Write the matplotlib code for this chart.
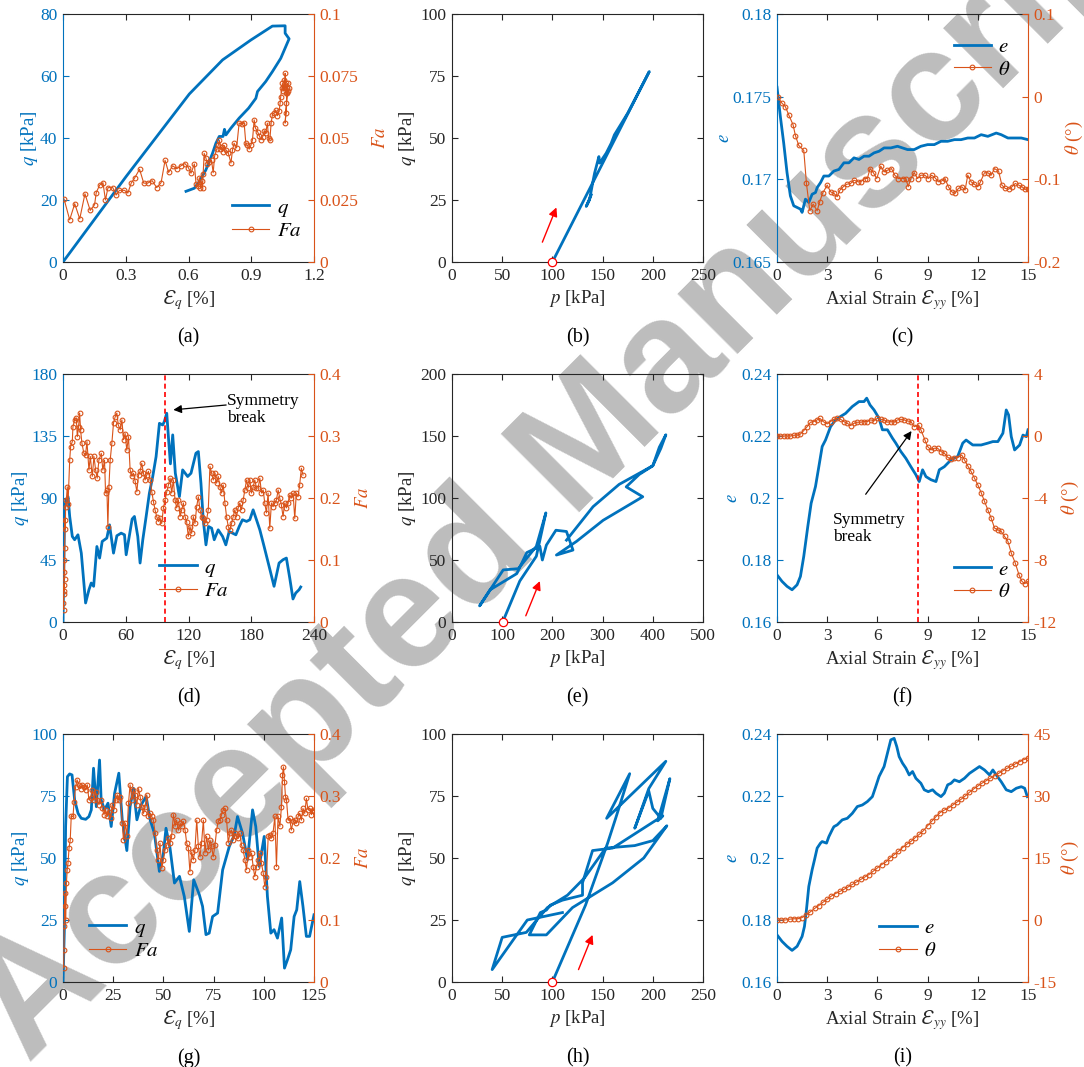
import numpy as np
import matplotlib
matplotlib.use("Agg")
import matplotlib.pyplot as plt
from matplotlib.ticker import FuncFormatter

plt.rcParams['font.family'] = 'Liberation Serif'
plt.rcParams['mathtext.fontset'] = 'stix'
plt.rcParams['axes.unicode_minus'] = False

BLUE = '#0072BD'
ORANGE = '#D95319'
DARK = '#262626'

# ---------------- (a) dense sample: q and Fa vs shear strain
a_q = [(0, 0), (0.302, 27.6), (0.604, 54.2), (0.763, 65.2), (0.898, 71.6), (1.001, 76.1),
       (1.062, 76.2), (1.062, 73.8), (1.081, 72.0), (1.041, 65.7), (1.001, 61.4), (0.969, 58.2),
       (0.930, 55.0), (0.922, 52.8), (0.887, 49.6), (0.842, 46.4), (0.803, 43.2), (0.779, 41.0),
       (0.772, 42.8), (0.765, 40.5), (0.747, 40.5), (0.731, 38.3), (0.715, 35.1), (0.683, 29.7),
       (0.652, 26.0), (0.628, 23.8), (0.588, 22.8)]
a_fa = [(0.005, 0.0254), (0.032, 0.017), (0.056, 0.0235), (0.080, 0.0174), (0.105, 0.0275),
        (0.130, 0.0208), (0.151, 0.0231), (0.159, 0.028), (0.175, 0.031), (0.191, 0.032),
        (0.203, 0.025), (0.215, 0.030), (0.238, 0.030), (0.254, 0.027), (0.270, 0.0289),
        (0.294, 0.0289), (0.310, 0.0278), (0.326, 0.0318), (0.342, 0.0338), (0.366, 0.0374),
        (0.386, 0.0318), (0.405, 0.0318), (0.426, 0.0328), (0.448, 0.030), (0.469, 0.032),
        (0.488, 0.041), (0.505, 0.0361), (0.524, 0.0388), (0.544, 0.0376), (0.564, 0.0388),
        (0.583, 0.0397), (0.599, 0.0381), (0.612, 0.0358), (0.628, 0.0395), (0.636, 0.0315),
        (0.645, 0.0305), (0.652, 0.034), (0.657, 0.0298), (0.663, 0.0325), (0.667, 0.0298),
        (0.670, 0.0355), (0.675, 0.0438), (0.683, 0.0420), (0.690, 0.0395), (0.700, 0.0405),
        (0.710, 0.0410), (0.718, 0.0360), (0.725, 0.0428), (0.735, 0.0455), (0.742, 0.0470),
        (0.748, 0.0490), (0.752, 0.0455), (0.758, 0.0462), (0.763, 0.0445), (0.770, 0.0470),
        (0.779, 0.0452), (0.790, 0.0440), (0.803, 0.0399), (0.810, 0.0450), (0.818, 0.0479),
        (0.830, 0.0460), (0.842, 0.0560), (0.855, 0.0558), (0.866, 0.0560), (0.874, 0.0479),
        (0.882, 0.0470), (0.890, 0.0455), (0.898, 0.0470), (0.906, 0.0493), (0.914, 0.0573),
        (0.920, 0.0540), (0.930, 0.0526), (0.938, 0.0510), (0.946, 0.0493), (0.955, 0.0505),
        (0.962, 0.0530), (0.969, 0.0520), (0.977, 0.0560), (0.983, 0.0500), (0.989, 0.0493),
        (0.995, 0.0560), (1.001, 0.0593), (1.008, 0.0600), (1.017, 0.0613), (1.025, 0.0590),
        (1.033, 0.0607), (1.038, 0.0640), (1.041, 0.0667), (1.046, 0.0700), (1.049, 0.0720),
        (1.053, 0.0690), (1.057, 0.0734), (1.060, 0.0700), (1.062, 0.0761), (1.065, 0.0720),
        (1.068, 0.0680), (1.071, 0.0700), (1.074, 0.0720), (1.068, 0.0640), (1.062, 0.0560),
        (1.066, 0.0600), (1.072, 0.0680), (1.078, 0.0690), (1.081, 0.0700)]

# ---------------- (b) stress path
b_path = [(100, 0), (196.5, 76.8), (175, 60), (161.8, 51.3), (158.6, 47.9), (153.6, 43.9),
          (147, 39.9), (146.3, 42.5), (142, 35.8), (140.4, 32.5), (137, 25.1), (133.7, 22.4),
          (138.7, 27.1)]

# ---------------- (c) void ratio and rotation vs axial strain
c_e = [(0, 0.17557), (0.2, 0.1738), (0.4, 0.1722), (0.6, 0.1704), (0.8, 0.1690), (1.0, 0.1684),
       (1.2, 0.1683), (1.4, 0.1682), (1.5, 0.1680), (1.7, 0.1688), (1.9, 0.1686), (2.1, 0.1691),
       (2.3, 0.1692), (2.4, 0.1695), (2.6, 0.1698), (2.8, 0.1702), (3.1, 0.1702), (3.4, 0.1705),
       (3.7, 0.1706), (4.0, 0.1710), (4.3, 0.1710), (4.6, 0.1713), (4.9, 0.1712), (5.2, 0.1714),
       (5.5, 0.1714), (5.8, 0.1716), (6.1, 0.1717), (6.4, 0.1719), (6.8, 0.1719), (7.2, 0.1720),
       (7.5, 0.1719), (7.8, 0.1718), (8.2, 0.1718), (8.6, 0.1720), (9.0, 0.1721), (9.4, 0.1721),
       (9.8, 0.1723), (10.2, 0.1723), (10.6, 0.1724), (11.0, 0.1724), (11.4, 0.1725),
       (11.8, 0.1725), (12.2, 0.1727), (12.6, 0.1726), (13.1, 0.1728), (13.4, 0.1727),
       (13.8, 0.1725), (14.2, 0.1725), (14.6, 0.1725), (15.0, 0.1724)]
c_theta = [(0.04, 0.0), (0.3, -0.008), (0.5, -0.012), (0.7, -0.022), (0.96, -0.034), (1.1, -0.047),
           (1.3, -0.059), (1.6, -0.065), (1.76, -0.105), (1.96, -0.138), (2.16, -0.13), (2.4, -0.138),
           (2.54, -0.128), (2.72, -0.117), (3.0, -0.107), (3.2, -0.115), (3.4, -0.117), (3.6, -0.121),
           (3.76, -0.113), (3.96, -0.109), (4.16, -0.106), (4.4, -0.105), (4.6, -0.101), (4.84, -0.103),
           (5.0, -0.103), (5.24, -0.099), (5.4, -0.099), (5.56, -0.087), (5.76, -0.092), (5.96, -0.099),
           (6.2, -0.084), (6.4, -0.091), (6.6, -0.089), (6.84, -0.087), (7.04, -0.095), (7.24, -0.099),
           (7.5, -0.099), (7.7, -0.099), (7.84, -0.109), (8.0, -0.099), (8.2, -0.092), (8.4, -0.099),
           (8.6, -0.095), (8.84, -0.095), (9.04, -0.099), (9.24, -0.095), (9.44, -0.098), (9.64, -0.103),
           (9.84, -0.102), (10.04, -0.099), (10.24, -0.109), (10.44, -0.115), (10.64, -0.117),
           (10.84, -0.111), (11.04, -0.109), (11.24, -0.113), (11.4, -0.095), (11.6, -0.103),
           (11.8, -0.106), (12.0, -0.109), (12.16, -0.103), (12.4, -0.092), (12.6, -0.092),
           (12.8, -0.095), (13.0, -0.087), (13.24, -0.090), (13.44, -0.107), (13.64, -0.111),
           (13.84, -0.112), (14.04, -0.109), (14.24, -0.105), (14.44, -0.107), (14.64, -0.109),
           (14.8, -0.112), (15.0, -0.112)]

# ---------------- (d) loose sample: q and Fa vs shear strain
d_q = [(0, 0), (1.6, 83.8), (3.2, 88.7), (4.8, 91), (6.4, 76.6), (8.9, 62.1), (11.1, 59.7),
       (14.3, 63.3), (17.5, 50), (21.6, 13.8), (24.8, 23.4), (27, 28.3), (29.3, 25.9), (32.4, 54.8),
       (35, 46.4), (37.5, 58.5), (41.9, 60.9), (44.5, 70.5), (48.3, 50), (51.5, 62.6), (55.6, 64.5),
       (58.8, 63.3), (60.4, 48.8), (63.6, 63.3), (66.1, 74.7), (68.3, 76.6), (71.5, 62.1),
       (73.7, 42.8), (76.3, 59.7), (79.5, 76.6), (82.6, 93.5), (85.8, 105.6), (89, 120),
       (92.2, 144.2), (95.3, 143), (96.9, 145.5), (99.2, 151.5), (101.1, 131), (102.7, 114.8),
       (104.9, 135.8), (107.4, 108), (111.3, 91), (114.4, 110.4), (119.2, 105.6), (122.4, 108),
       (127.1, 122.5), (129.4, 123.7), (131.9, 100.7), (134.1, 74.2), (136.7, 56), (139.2, 69.3),
       (142.1, 68.1), (144.6, 59.7), (148.4, 66.9), (152.6, 62.1), (155.7, 56), (158.9, 65.7),
       (162.1, 64.5), (165.3, 63.3), (168.5, 69.3), (171.6, 74.2), (175.5, 73), (178.6, 74.2),
       (181.8, 81.4), (185, 74.2), (188.2, 66.9), (192.3, 54.8), (197.1, 40.3), (201.8, 25.9),
       (206.6, 42.8), (210.4, 45.2), (213.6, 46.4), (216.8, 31.9), (219.9, 16.7), (222.5, 21),
       (225.7, 23.4), (227.3, 25.4)]
d_fa = [(0.3, 0.03), (0.5, 0.02), (0.6, 0.045), (0.8, 0.06), (1.0, 0.05), (1.1, 0.08), (1.3, 0.1),
        (1.5, 0.07), (1.6, 0.12), (1.9, 0.165), (2.2, 0.15), (2.5, 0.186), (3.2, 0.197), (4.1, 0.218),
        (4.8, 0.19), (6.4, 0.261), (7.3, 0.283), (8.9, 0.291), (9.5, 0.315), (11.1, 0.326),
        (12.7, 0.329), (13.7, 0.299), (14.9, 0.315), (15.9, 0.337), (16.8, 0.31), (18.1, 0.288),
        (20, 0.272), (21.6, 0.27), (22.9, 0.291), (24.8, 0.245), (26.1, 0.267), (28, 0.235),
        (29.6, 0.267), (31.2, 0.245), (32.7, 0.232), (34.3, 0.261), (36.6, 0.272), (38.1, 0.245),
        (39.7, 0.261), (40.7, 0.208), (42, 0.213), (42.9, 0.154), (43.9, 0.218), (45.1, 0.261),
        (46.7, 0.288), (48.3, 0.321), (49.9, 0.331), (51.5, 0.337), (52.8, 0.318), (54.7, 0.31),
        (56.3, 0.326), (57.9, 0.294), (59.4, 0.304), (61, 0.277), (62.6, 0.299), (64.2, 0.245),
        (65.8, 0.235), (67.4, 0.24), (69, 0.227), (70.6, 0.21), (72.2, 0.237), (73.7, 0.243),
        (75.3, 0.256), (76.9, 0.24), (78.5, 0.229), (80.1, 0.237), (81.7, 0.243), (83.3, 0.229),
        (84.9, 0.21), (86.5, 0.194), (88, 0.181), (89.6, 0.17), (91.2, 0.162), (92.8, 0.167),
        (94.4, 0.159), (96, 0.184), (97.6, 0.197), (99.2, 0.21), (100.8, 0.221), (102.4, 0.232),
        (103.9, 0.208), (105.5, 0.229), (107.1, 0.197), (108.7, 0.184), (110.3, 0.197), (111.9, 0.17),
        (113.5, 0.181), (115.1, 0.192), (116.7, 0.17), (118.2, 0.162), (119.8, 0.138), (121.4, 0.154),
        (123, 0.143), (124.6, 0.17), (126.2, 0.159), (127.8, 0.186), (129.4, 0.202), (131, 0.181),
        (132.5, 0.17), (134.1, 0.167), (135.7, 0.159), (137.3, 0.165), (138.9, 0.181), (140.5, 0.251),
        (142.1, 0.24), (143.7, 0.229), (145.3, 0.24), (146.9, 0.224), (148.4, 0.235), (150, 0.218),
        (151.6, 0.208), (153.2, 0.221), (154.8, 0.192), (156.4, 0.17), (158, 0.154), (159.6, 0.149),
        (161.2, 0.159), (162.7, 0.17), (164.3, 0.181), (165.9, 0.17), (167.5, 0.184), (169.1, 0.192),
        (170.7, 0.181), (172.3, 0.197), (173.9, 0.213), (175.5, 0.229), (177, 0.216), (178.6, 0.229),
        (180.2, 0.208), (181.8, 0.218), (183.4, 0.229), (185, 0.216), (186.6, 0.216), (188.2, 0.232),
        (189.8, 0.208), (191.4, 0.213), (192.9, 0.192), (194.5, 0.176), (196.1, 0.208), (197.7, 0.151),
        (199.3, 0.192), (200.9, 0.186), (202.5, 0.192), (204.1, 0.197), (205.7, 0.213), (207.2, 0.2),
        (208.8, 0.189), (210.4, 0.17), (212, 0.192), (213.6, 0.184), (215.2, 0.192), (216.8, 0.205),
        (218.4, 0.2), (220, 0.208), (221.6, 0.167), (223.1, 0.208), (224.7, 0.202), (226.3, 0.221),
        (227.9, 0.248), (229.5, 0.237)]
d_break = 97.9

# ---------------- (e) stress path
e_path = [(101, 0), (135, 33), (168, 53), (187, 88), (168, 61), (132, 43), (102, 42), (55, 13),
          (76, 26), (129, 39), (149, 56), (175, 61), (180, 50), (188, 62), (207, 74), (228, 73),
          (241, 58), (208, 54), (248, 65), (301, 82), (380, 101), (347, 109), (373, 119), (400, 126),
          (416, 140), (426, 151), (413, 141), (400, 126), (333, 111), (281, 93), (228, 66)]

# ---------------- (f) void ratio and rotation vs axial strain
f_e = [(0, 0.1752), (0.3, 0.1731), (0.6, 0.1715), (0.9, 0.1704), (1.2, 0.172), (1.4, 0.1747),
       (1.6, 0.1812), (1.84, 0.1908), (2.04, 0.1983), (2.3, 0.2037), (2.5, 0.2101), (2.7, 0.2166),
       (2.9, 0.2187), (3.2, 0.223), (3.5, 0.2252), (3.8, 0.2263), (4.1, 0.2273), (4.5, 0.2295),
       (4.9, 0.2311), (5.2, 0.2311), (5.36, 0.2322), (5.56, 0.23), (5.8, 0.2284), (6.1, 0.2257),
       (6.3, 0.222), (6.6, 0.222), (6.9, 0.2193), (7.1, 0.2177), (7.4, 0.215), (7.7, 0.2128),
       (8.0, 0.2101), (8.3, 0.2075), (8.5, 0.2053), (8.7, 0.2091), (8.9, 0.2069), (9.2, 0.2059),
       (9.5, 0.2053), (9.7, 0.2091), (10.0, 0.2101), (10.4, 0.2123), (10.8, 0.2134), (11.1, 0.2177),
       (11.3, 0.2187), (11.7, 0.2171), (12.2, 0.2171), (12.6, 0.2177), (12.9, 0.2182),
       (13.2, 0.2182), (13.5, 0.2209), (13.7, 0.2284), (13.84, 0.2268), (14.0, 0.2198),
       (14.2, 0.2155), (14.5, 0.2171), (14.7, 0.2203), (14.9, 0.2198), (15.0, 0.222)]
f_theta = [(0, 0.0), (0.2, 0.0), (0.4, 0.0), (0.6, 0.0), (0.8, 0.0), (1.0, 0.05), (1.2, 0.05),
           (1.4, 0.13), (1.6, 0.35), (1.8, 0.6), (2.0, 0.89), (2.2, 0.93), (2.4, 1.04), (2.56, 1.14),
           (2.76, 0.93), (3.0, 0.78), (3.2, 0.93), (3.4, 1.08), (3.6, 1.14), (3.8, 1.08), (4.0, 0.93),
           (4.2, 0.82), (4.4, 0.67), (4.6, 0.82), (4.8, 0.89), (5.0, 0.89), (5.2, 0.93), (5.4, 0.93),
           (5.6, 1.04), (5.8, 1.0), (6.0, 1.14), (6.2, 1.08), (6.4, 1.04), (6.6, 0.89), (6.8, 0.93),
           (7.0, 0.89), (7.2, 1.04), (7.4, 1.08), (7.6, 1.04), (7.8, 0.97), (8.0, 0.93), (8.2, 0.6),
           (8.46, 0.71), (8.6, 0.39), (8.84, -0.25), (9.0, -0.68), (9.2, -0.9), (9.4, -0.79),
           (9.6, -0.79), (9.8, -1.0), (10.0, -1.11), (10.2, -1.37), (10.4, -1.5), (10.6, -1.43),
           (10.8, -1.39), (11.04, -1.22), (11.2, -1.54), (11.4, -1.93), (11.6, -2.29), (11.8, -2.72),
           (12.0, -3.15), (12.2, -3.65), (12.4, -4.22), (12.6, -4.76), (12.8, -5.3), (13.0, -5.94),
           (13.2, -6.05), (13.4, -6.16), (13.6, -6.48), (13.8, -6.8), (14.0, -7.55), (14.24, -8.2),
           (14.46, -8.95), (14.64, -9.38), (14.8, -9.53), (15.0, -9.38)]
f_break = 8.44

# ---------------- (g) dense sample, second run
g_q = [(0, 0), (0.8, 25), (1.3, 62.7), (2.2, 82.8), (3.3, 83.9), (4.5, 83.5), (5.8, 73.4),
       (7.5, 68), (9.1, 66), (11.3, 65.6), (12.9, 66.7), (14.1, 69.4), (15.2, 86.2), (16.6, 70.7),
       (18.2, 89.5), (19, 73.4), (20.7, 69.4), (22.4, 72.1), (24, 62.7), (25.7, 76.1), (27.8, 84.2),
       (29.5, 65.4), (31.8, 53), (33.4, 70.7), (35.1, 78.1), (36.8, 65.4), (38.9, 71.4),
       (41.4, 74.8), (43.4, 65.4), (45.5, 60), (48, 44.6), (50, 51.9), (51.3, 62), (53.3, 54),
       (55.5, 39.9), (58, 42.6), (60.4, 34.5), (62.9, 20.4), (65.1, 41.2), (67.9, 35.2),
       (69.5, 30.5), (71.2, 19.1), (72.8, 19.7), (74.5, 26.4), (77, 27.8), (79.5, 45.2),
       (82.8, 54.6), (85.3, 59.3), (86.9, 66.7), (89.4, 60), (91.9, 49.3), (94.4, 69.4), (96, 62.7),
       (97.7, 46.6), (100.2, 58.7), (101.8, 34.5), (103.5, 19.7), (105.1, 21.1), (106.8, 17.7),
       (108.9, 25.8), (110.3, 5.6), (111.8, 9), (113.4, 13), (115.1, 26.4), (116.4, 29.1),
       (117.9, 40.5), (119.5, 30.5), (121.2, 18.4), (122.8, 18.4), (125, 27.1)]
g_fa = [(0.3, 0.0226), (0.5, 0.052), (0.6, 0.09), (0.8, 0.122), (1.1, 0.143), (1.3, 0.1),
        (1.7, 0.16), (2.1, 0.181), (2.5, 0.192), (3.0, 0.216), (3.6, 0.229), (4.1, 0.267), (5, 0.267),
        (5.5, 0.291), (6.3, 0.315), (7, 0.326), (8, 0.318), (8.8, 0.312), (9.6, 0.318), (10.4, 0.315),
        (11.3, 0.31), (12.1, 0.318), (12.9, 0.294), (13.7, 0.296), (14.6, 0.31), (15.4, 0.294),
        (16.2, 0.307), (17.1, 0.294), (17.9, 0.286), (18.7, 0.294), (19.5, 0.28), (20.4, 0.27),
        (21.2, 0.278), (22, 0.267), (22.8, 0.275), (23.7, 0.264), (24.5, 0.286), (25.3, 0.278),
        (26.2, 0.294), (27, 0.302), (27.8, 0.294), (28.6, 0.299), (29.5, 0.256), (30.1, 0.229),
        (31, 0.256), (31.8, 0.235), (32.6, 0.288), (33.4, 0.318), (34.3, 0.294), (35.1, 0.31),
        (35.9, 0.302), (36.8, 0.286), (37.6, 0.312), (38.4, 0.299), (39.2, 0.283), (40.1, 0.272),
        (40.9, 0.283), (41.7, 0.302), (42.5, 0.267), (43.4, 0.272), (44.2, 0.267), (45, 0.261),
        (45.9, 0.24), (46.7, 0.213), (47.5, 0.197), (48.3, 0.224), (49.2, 0.184), (50, 0.197),
        (50.8, 0.213), (51.7, 0.221), (52.5, 0.232), (53.3, 0.224), (54.1, 0.235), (55, 0.27),
        (55.8, 0.251), (56.6, 0.261), (57.5, 0.245), (58.3, 0.256), (59.1, 0.251), (59.9, 0.259),
        (60.8, 0.245), (61.6, 0.224), (62.4, 0.216), (63.2, 0.178), (64.1, 0.21), (64.9, 0.197),
        (65.7, 0.213), (66.6, 0.261), (67.4, 0.219), (68.2, 0.202), (69, 0.224), (69.9, 0.261),
        (70.7, 0.208), (71.5, 0.235), (72.4, 0.213), (73.2, 0.229), (74, 0.219), (74.8, 0.202),
        (75.7, 0.221), (76.5, 0.245), (77.3, 0.259), (78.1, 0.261), (79, 0.27), (79.8, 0.278),
        (80.6, 0.28), (81.5, 0.261), (82.3, 0.224), (83.1, 0.24), (83.9, 0.245), (84.8, 0.229),
        (85.6, 0.24), (86.4, 0.235), (87.3, 0.232), (88.1, 0.24), (88.9, 0.221), (89.7, 0.213),
        (90.6, 0.197), (91.4, 0.181), (92.2, 0.213), (93, 0.202), (93.9, 0.208), (94.7, 0.186),
        (95.5, 0.17), (96.4, 0.186), (97.2, 0.197), (98, 0.208), (98.8, 0.192), (99.7, 0.176),
        (100.5, 0.154), (101.3, 0.17), (102.2, 0.235), (103, 0.237), (103.8, 0.232), (104.6, 0.24),
        (105.5, 0.267), (106.3, 0.186), (107.1, 0.267), (108, 0.251), (108.8, 0.283), (109.3, 0.334),
        (109.8, 0.347), (110.3, 0.323), (110.8, 0.299), (111.3, 0.294), (112.1, 0.261),
        (112.9, 0.264), (113.7, 0.245), (114.6, 0.259), (115.4, 0.261), (116.2, 0.256),
        (117.1, 0.267), (117.9, 0.272), (118.7, 0.261), (119.5, 0.28), (120.4, 0.272), (121.2, 0.296),
        (122, 0.278), (122.8, 0.28), (123.7, 0.27), (124.5, 0.278), (125, 0.276)]

# ---------------- (h) stress path
h_path = [(100, 0), (133, 31), (155, 56), (163, 66), (177, 84), (154, 66), (213, 89), (196, 78),
          (183, 63), (182, 62), (196, 77), (200, 70), (208, 66), (217, 82), (205, 65), (210, 67),
          (160, 54), (140, 53), (130, 40), (130, 35), (110, 33), (98, 31), (94, 29), (88, 28),
          (77, 19), (94, 19), (120, 30), (160, 40), (191, 50), (214, 63), (200, 57), (182, 55),
          (153, 54), (132, 42), (115, 35), (95, 30), (74, 20), (50, 18), (40, 5), (75, 25), (110, 28)]

# ---------------- (i) void ratio and rotation vs axial strain
i_e = [(0, 0.1752), (0.3, 0.1731), (0.6, 0.1715), (0.9, 0.1702), (1.2, 0.1715), (1.5, 0.1747),
       (1.64, 0.1779), (1.76, 0.1833), (1.9, 0.1908), (2.1, 0.1962), (2.24, 0.1994), (2.4, 0.2032),
       (2.6, 0.2048), (2.7, 0.2053), (2.96, 0.2048), (3.1, 0.2069), (3.3, 0.2091), (3.4, 0.2101),
       (3.6, 0.2107), (3.9, 0.2123), (4.2, 0.2128), (4.5, 0.2144), (4.8, 0.2166), (5.1, 0.2171),
       (5.4, 0.2182), (5.7, 0.2198), (5.9, 0.223), (6.1, 0.2263), (6.4, 0.2295), (6.6, 0.2338),
       (6.8, 0.2381), (7.0, 0.2386), (7.16, 0.2359), (7.3, 0.2327), (7.5, 0.2306), (7.7, 0.229),
       (7.9, 0.2268), (8.1, 0.2279), (8.3, 0.2257), (8.6, 0.2241), (8.8, 0.222), (9.04, 0.2214),
       (9.3, 0.222), (9.5, 0.2209), (9.8, 0.2198), (10.0, 0.2209), (10.2, 0.2236), (10.4, 0.2241),
       (10.6, 0.2252), (10.9, 0.2246), (11.2, 0.2257), (11.5, 0.2273), (11.8, 0.2284),
       (12.1, 0.2295), (12.4, 0.2284), (12.7, 0.2268), (12.9, 0.2284), (13.1, 0.2268),
       (13.4, 0.2246), (13.7, 0.222), (14.0, 0.2214), (14.3, 0.2225), (14.6, 0.223), (14.8, 0.2225),
       (14.96, 0.2198)]
i_theta = [(0, 0), (0.25, 0), (0.5, 0), (0.75, 0.2), (1.0, 0.3), (1.25, 0.3), (1.5, 0.6), (1.75, 1.2),
           (2.0, 2.0), (2.25, 2.8), (2.5, 3.5), (2.75, 4.3), (3.0, 5.0), (3.25, 5.8), (3.5, 6.4),
           (3.75, 6.9), (4.0, 7.4), (4.25, 8.0), (4.5, 8.6), (4.75, 9.2), (5.0, 9.8), (5.25, 10.4),
           (5.5, 11.0), (5.75, 11.8), (6.0, 12.6), (6.25, 13.4), (6.5, 14.0), (6.75, 15.0), (7.0, 15.8),
           (7.25, 16.6), (7.5, 17.5), (7.75, 18.3), (8.0, 19.0), (8.25, 19.9), (8.5, 20.7),
           (8.75, 21.6), (9.0, 22.8), (9.25, 23.9), (9.5, 25.0), (9.75, 26.0), (10.0, 26.6),
           (10.25, 27.1), (10.5, 27.8), (10.75, 28.5), (11.0, 29.2), (11.25, 30.0), (11.5, 30.9),
           (11.75, 31.7), (12.0, 32.4), (12.25, 33.1), (12.5, 33.7), (12.75, 34.3), (13.0, 34.9),
           (13.25, 35.5), (13.5, 36.1), (13.75, 36.7), (14.0, 37.2), (14.25, 37.8), (14.5, 38.3),
           (14.75, 38.8), (15.0, 39.2)]

eq_label = r'$\mathit{Ɛ}_q$ [%]'
eyy_label = r'Axial Strain $\mathit{Ɛ}_{yy}$ [%]'
q_label = r'$q$ [kPa]'
p_label = r'$p$ [kPa]'
theta_label = r'$\theta$ (°)'

fmt = FuncFormatter(lambda v, _: '%g' % v)

W, H = 1084, 1067
fig = plt.figure(figsize=(W / 100, H / 100), dpi=100)

col_left = [63, 452, 777]
row_top = [14, 374, 734]
aw, ah = 251, 248


def make_axes(r, c):
    ax = fig.add_axes([col_left[c] / W, 1 - (row_top[r] + ah) / H, aw / W, ah / H])
    ax.set_facecolor('none')
    return ax


def panel_tag(r, c, tag):
    fig.text((col_left[c] + aw / 2) / W, 1 - (row_top[r] + ah + 76) / H, tag,
             ha='center', va='center', fontsize=14.5)


def xy(pairs):
    arr = np.array(pairs, dtype=float)
    return arr[:, 0], arr[:, 1]


def twin(ax, xlim, xticks, ylim, yticks, y2lim, y2ticks, xlabel, ylabel, y2label, pad2=2):
    for s in ('top', 'bottom'):
        ax.spines[s].set_color(DARK)
    ax.spines['left'].set_color(BLUE)
    ax.spines['right'].set_visible(False)
    ax.tick_params(direction='in', length=4, top=True, right=False, labelsize=12.5, pad=4)
    ax.tick_params(axis='x', colors=DARK, labelcolor=DARK)
    ax.tick_params(axis='y', colors=BLUE)
    ax.set_xlim(xlim)
    ax.set_ylim(ylim)
    ax.set_xticks(xticks)
    ax.set_yticks(yticks)
    ax.xaxis.set_major_formatter(fmt)
    ax.yaxis.set_major_formatter(fmt)
    ax.set_xlabel(xlabel, fontsize=13.5, color=DARK, labelpad=3)
    ax.set_ylabel(ylabel, fontsize=13.5, color=BLUE, labelpad=0)
    ax2 = ax.twinx()
    ax2.set_facecolor('none')
    for s in ('top', 'bottom', 'left'):
        ax2.spines[s].set_visible(False)
    ax2.spines['right'].set_color(ORANGE)
    ax2.tick_params(direction='in', length=4, labelsize=12.5, colors=ORANGE, pad=4)
    ax2.set_ylim(y2lim)
    ax2.set_yticks(y2ticks)
    ax2.yaxis.set_major_formatter(fmt)
    ax2.set_ylabel(y2label, fontsize=13.5, color=ORANGE, labelpad=pad2)
    return ax2


def boxed(ax, xlim, xticks, ylim, yticks):
    for s in ax.spines.values():
        s.set_color(DARK)
    ax.tick_params(direction='in', length=4, top=True, right=True, labelsize=12.5, pad=4,
                   colors=DARK)
    ax.set_xlim(xlim)
    ax.set_ylim(ylim)
    ax.set_xticks(xticks)
    ax.set_yticks(yticks)
    ax.xaxis.set_major_formatter(fmt)
    ax.yaxis.set_major_formatter(fmt)
    ax.set_xlabel(p_label, fontsize=13.5, color=DARK, labelpad=3)
    ax.set_ylabel(q_label, fontsize=13.5, color=DARK, labelpad=2)


def plot_main(ax, pairs):
    x, y = xy(pairs)
    return ax.plot(x, y, color=BLUE, lw=2.0, solid_joinstyle='round')[0]


def plot_marked(ax, pairs):
    x, y = xy(pairs)
    return ax.plot(x, y, color=ORANGE, lw=0.8, marker='o', ms=3.4, mfc='none', mew=0.8)[0]


def add_legend(ax, handles, labels, anchor):
    ax.legend(handles, labels, loc='center left', bbox_to_anchor=anchor, frameon=False,
              handlelength=1.8, handletextpad=0.35, labelspacing=0.15,
              borderaxespad=0.0, prop={'size': 15})


def start_path(ax, pairs, tail, head):
    x, y = xy(pairs)
    ax.plot(x, y, color=BLUE, lw=2.0, solid_joinstyle='round')
    ax.plot(x[:1], y[:1], 'o', color='red', mfc='white', ms=6, mew=0.9, clip_on=False, zorder=5)
    ax.annotate('', xy=head, xytext=tail,
                arrowprops=dict(arrowstyle='-|>', color='red', lw=1.0, mutation_scale=13,
                                shrinkA=0, shrinkB=0))


# (a)
ax = make_axes(0, 0)
ax2 = twin(ax, (0, 1.2), [0, 0.3, 0.6, 0.9, 1.2], (0, 80), [0, 20, 40, 60, 80],
           (0, 0.1), [0, 0.025, 0.05, 0.075, 0.1], eq_label, q_label, r'$Fa$', pad2=10)
h1 = plot_main(ax, a_q)
h2 = plot_marked(ax2, a_fa)
add_legend(ax2, [h1, h2], [r'$q$', r'$Fa$'], (0.64, 0.17))
panel_tag(0, 0, '(a)')

# (b)
ax = make_axes(0, 1)
boxed(ax, (0, 250), [0, 50, 100, 150, 200, 250], (0, 100), [0, 25, 50, 75, 100])
start_path(ax, b_path, (90, 8), (104, 22))
panel_tag(0, 1, '(b)')

# (c)
ax = make_axes(0, 2)
ax2 = twin(ax, (0, 15), [0, 3, 6, 9, 12, 15], (0.165, 0.18), [0.165, 0.17, 0.175, 0.18],
           (-0.2, 0.1), [-0.2, -0.1, 0, 0.1], eyy_label, r'$e$', theta_label)
h1 = plot_main(ax, c_e)
h2 = plot_marked(ax2, c_theta)
add_legend(ax2, [h1, h2], [r'$e$', r'$\theta$'], (0.67, 0.82))
panel_tag(0, 2, '(c)')

# (d)
ax = make_axes(1, 0)
ax2 = twin(ax, (0, 240), [0, 60, 120, 180, 240], (0, 180), [0, 45, 90, 135, 180],
           (0, 0.4), [0, 0.1, 0.2, 0.3, 0.4], eq_label, q_label, r'$Fa$', pad2=10)
h1 = plot_main(ax, d_q)
h2 = plot_marked(ax2, d_fa)
ax.axvline(d_break, color='red', ls=(0, (3, 2)), lw=1.2, zorder=5)
ax.annotate('', xy=(105.5, 154), xytext=(156, 157.5),
            arrowprops=dict(arrowstyle='-|>', color='black', lw=0.9, mutation_scale=12,
                            shrinkA=0, shrinkB=0))
ax.text(157, 154, 'Symmetry\nbreak', ha='left', va='center', fontsize=12.5, linespacing=1.1)
add_legend(ax2, [h1, h2], [r'$q$', r'$Fa$'], (0.35, 0.17))
panel_tag(1, 0, '(d)')

# (e)
ax = make_axes(1, 1)
boxed(ax, (0, 500), [0, 100, 200, 300, 400, 500], (0, 200), [0, 50, 100, 150, 200])
start_path(ax, e_path, (147, 5), (175, 33))
panel_tag(1, 1, '(e)')

# (f)
ax = make_axes(1, 2)
ax2 = twin(ax, (0, 15), [0, 3, 6, 9, 12, 15], (0.16, 0.24), [0.16, 0.18, 0.2, 0.22, 0.24],
           (-12, 4), [-12, -8, -4, 0, 4], eyy_label, r'$e$', theta_label)
h1 = plot_main(ax, f_e)
h2 = plot_marked(ax2, f_theta)
ax.axvline(f_break, color='red', ls=(0, (3, 2)), lw=1.2, zorder=5)
ax.annotate('', xy=(8.04, 0.2216), xytext=(5.3, 0.2012),
            arrowprops=dict(arrowstyle='-|>', color='black', lw=0.9, mutation_scale=12,
                            shrinkA=0, shrinkB=0))
ax.text(3.34, 0.1901, 'Symmetry\nbreak', ha='left', va='center', fontsize=12.5, linespacing=1.1)
add_legend(ax2, [h1, h2], [r'$e$', r'$\theta$'], (0.67, 0.165))
panel_tag(1, 2, '(f)')

# (g)
ax = make_axes(2, 0)
ax2 = twin(ax, (0, 125), [0, 25, 50, 75, 100, 125], (0, 100), [0, 25, 50, 75, 100],
           (0, 0.4), [0, 0.1, 0.2, 0.3, 0.4], eq_label, q_label, r'$Fa$', pad2=10)
h1 = plot_main(ax, g_q)
h2 = plot_marked(ax2, g_fa)
add_legend(ax2, [h1, h2], [r'$q$', r'$Fa$'], (0.07, 0.17))
panel_tag(2, 0, '(g)')

# (h)
ax = make_axes(2, 1)
boxed(ax, (0, 250), [0, 50, 100, 150, 200, 250], (0, 100), [0, 25, 50, 75, 100])
start_path(ax, h_path, (126, 5), (140, 19))
panel_tag(2, 1, '(h)')

# (i)
ax = make_axes(2, 2)
ax2 = twin(ax, (0, 15), [0, 3, 6, 9, 12, 15], (0.16, 0.24), [0.16, 0.18, 0.2, 0.22, 0.24],
           (-15, 45), [-15, 0, 15, 30, 45], eyy_label, r'$e$', theta_label)
h1 = plot_main(ax, i_e)
h2 = plot_marked(ax2, i_theta)
add_legend(ax2, [h1, h2], [r'$e$', r'$\theta$'], (0.375, 0.17))
panel_tag(2, 2, '(i)')

# diagonal watermark behind the transparent axes
fig.text(0.53, 0.57, 'Accepted Manuscript', fontsize=116, family='Liberation Sans',
         weight='bold', color='#bdbdbd', rotation=45, ha='center', va='center',
         rotation_mode='anchor', zorder=-5)

fig.savefig('out.png', dpi=100, facecolor='white')
